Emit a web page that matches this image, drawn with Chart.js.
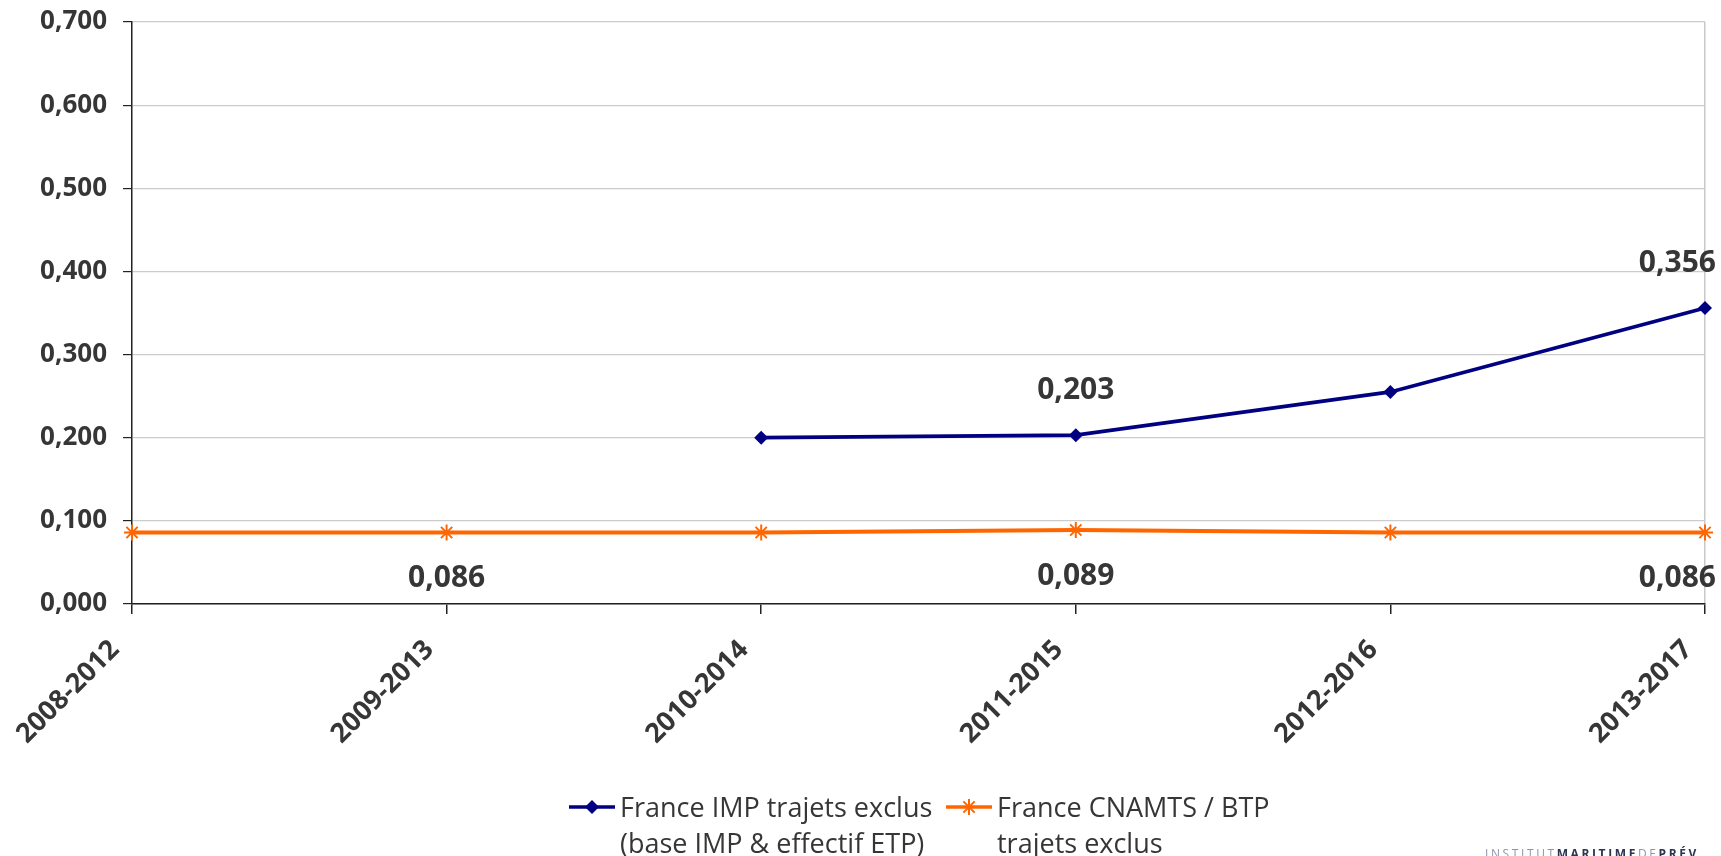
<!DOCTYPE html>
<html>
<head>
<meta charset="utf-8">
<script src="https://cdn.jsdelivr.net/npm/chart.js@4"></script>
<style>
  html, body { margin: 0; padding: 0; background: #fff; }
  #wrap { position: relative; width: 1721px; height: 856px; overflow: hidden; }
  #chart { position: absolute; left: 0; top: 0; }
  #logo { position: absolute; left: 1485px; top: 845px; font: 12px "Open Sans", sans-serif;
          letter-spacing: 2.6px; white-space: nowrap; color: #8e97aa; }
  #logo b { color: #2c3652; font-weight: 700; }
  .leg { position: absolute; top: 789px; font: 27px/36px "Open Sans", sans-serif; color: #363636;
         white-space: nowrap; }
  .leg canvas { position: absolute; top: 8px; }
</style>
</head>
<body>
<div id="wrap">
  <canvas id="chart" width="1721" height="856"></canvas>
  <div class="leg" id="leg0" style="left:620px"></div>
  <div class="leg" id="leg1" style="left:997px"></div>
  <div id="logo">INSTITUT<b>MARITIME</b>DE<b>PRÉV</b></div>
</div>
<script>
// Ligne IMP vs CNAMTS/BTP, trajets exclus — périodes glissantes de 5 ans.
(function () {
  "use strict";

  const periods = ["2008-2012", "2009-2013", "2010-2014", "2011-2015", "2012-2016", "2013-2017"];
  const impValues = [null, null, 0.200, 0.203, 0.255, 0.356];
  const cnamtsValues = [0.086, 0.086, 0.086, 0.089, 0.086, 0.086];
  const yTicks = [0, 0.1, 0.2, 0.3, 0.4, 0.5, 0.6, 0.7];
  const impLabelled = [3, 5];
  const cnamtsLabelled = [1, 3, 5];
  const seriesNames = [
    ["France IMP trajets exclus", "(base IMP & effectif ETP)"],
    ["France CNAMTS / BTP", "trajets exclus"],
  ];

  const NAVY = "#000080";
  const ORANGE = "#ff6600";
  const TEXT = "#363636";
  const FONT = "'Open Sans', sans-serif";

  const fmt = (v) => v.toFixed(3).replace(".", ",");

  // legendSwatch builds the small line + marker key used in the legend.
  function legendSwatch(color, kind) {
    const c = document.createElement("canvas");
    c.width = 48;
    c.height = 20;
    const g = c.getContext("2d");
    g.strokeStyle = color;
    g.fillStyle = color;
    g.lineWidth = 3.5;
    g.beginPath();
    g.moveTo(1, 10);
    g.lineTo(47, 10);
    g.stroke();
    if (kind === "diamond") {
      g.beginPath();
      g.moveTo(24, 3); g.lineTo(31, 10); g.lineTo(24, 17); g.lineTo(17, 10);
      g.closePath();
      g.fill();
    } else {
      g.lineWidth = 2;
      g.beginPath();
      for (let k = 0; k < 4; k++) {
        const a = (k * Math.PI) / 4;
        g.moveTo(24 - 8 * Math.cos(a), 10 - 8 * Math.sin(a));
        g.lineTo(24 + 8 * Math.cos(a), 10 + 8 * Math.sin(a));
      }
      g.stroke();
    }
    return c;
  }

  [[NAVY, "diamond"], [ORANGE, "star"]].forEach(([color, kind], i) => {
    const box = document.getElementById("leg" + i);
    const sw = legendSwatch(color, kind);
    sw.style.left = "-52px";
    box.appendChild(sw);
    box.insertAdjacentHTML("beforeend", seriesNames[i].join("<br>"));
  });

  // valueLabels draws the bold figures above (IMP) / below (CNAMTS) the
  // selected points; the last one is pulled left so it stays on the canvas.
  const valueLabels = {
    id: "valueLabels",
    afterDatasetsDraw(chart) {
      const ctx = chart.ctx;
      const sets = [
        { ds: 0, idx: impLabelled, dy: -45 },
        { ds: 1, idx: cnamtsLabelled, dy: 46 },
      ];
      ctx.save();
      ctx.font = "bold 30px " + FONT;
      ctx.fillStyle = TEXT;
      ctx.textBaseline = "middle";
      sets.forEach((s) => {
        const meta = chart.getDatasetMeta(s.ds);
        const data = chart.data.datasets[s.ds].data;
        s.idx.forEach((i) => {
          const pt = meta.data[i];
          let x = pt.x;
          ctx.textAlign = "center";
          if (i === periods.length - 1) {
            ctx.textAlign = "right";
            x = chart.width - 5;
          }
          ctx.fillText(fmt(data[i]), x, pt.y + s.dy);
        });
      });
      ctx.restore();
    },
  };

  new Chart(document.getElementById("chart"), {
    type: "line",
    data: {
      labels: periods,
      datasets: [
        {
          label: seriesNames[0].join(" "),
          data: impValues,
          borderColor: NAVY,
          backgroundColor: NAVY,
          borderWidth: 3.8,
          pointStyle: "rectRot",
          pointRadius: 7,
          pointBorderWidth: 0,
          tension: 0,
        },
        {
          label: seriesNames[1].join(" "),
          data: cnamtsValues,
          borderColor: ORANGE,
          backgroundColor: ORANGE,
          borderWidth: 4,
          pointStyle: "star",
          pointRadius: 8,
          pointBorderWidth: 2,
          tension: 0,
        },
      ],
    },
    options: {
      responsive: false,
      animation: false,
      layout: { padding: { top: 22, right: 16, left: 0, bottom: 74 } },
      scales: {
        x: {
          offset: false,
          grid: {
            offset: false,
            color: (c) => (c.index === periods.length - 1 ? "#c8c8c8" : "rgba(0,0,0,0)"),
            tickColor: "#222",
            tickLength: 10,
            lineWidth: 1.5,
          },
          border: { color: "#222", width: 1.5 },
          ticks: {
            color: TEXT,
            font: { family: FONT, size: 27, weight: "bold" },
            minRotation: 45,
            maxRotation: 45,
            padding: 20,
            labelOffset: -17,
          },
          afterFit(scale) {
            scale.height = 178;
            scale.paddingLeft = 0;
            scale.paddingRight = 0;
          },
        },
        y: {
          min: 0,
          max: 0.7,
          afterBuildTicks(scale) { scale.ticks = yTicks.map((v) => ({ value: v })); },
          grid: { color: "#cccccc", tickColor: "#222", tickLength: 9, lineWidth: 1.2 },
          border: { color: "#222", width: 1.5 },
          ticks: {
            color: TEXT,
            font: { family: FONT, size: 26, weight: "bold" },
            padding: 16,
            callback: (v) => fmt(v),
          },
          afterFit(scale) {
            scale.width = 132;
            scale.paddingTop = 0;
            scale.paddingBottom = 0;
          },
        },
      },
      plugins: {
        tooltip: { enabled: false },
        legend: { display: false },
      },
    },
    plugins: [valueLabels],
  });
})();
</script>
</body>
</html>
